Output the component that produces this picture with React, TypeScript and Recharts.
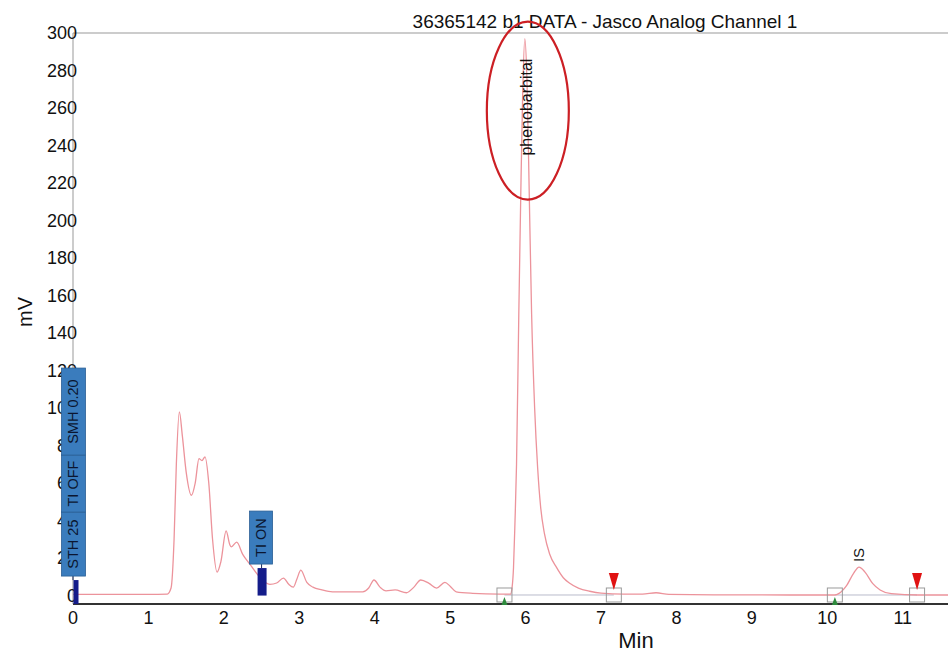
import {LineChart, Line, XAxis, YAxis, ReferenceDot, ReferenceLine} from "recharts";

// retention time (min) and detector signal (mV)
const times = [
  0, 0.5, 1.0, 1.25, 1.3, 1.34, 1.37, 1.41, 1.45, 1.5, 1.57, 1.62, 1.67, 1.71, 1.75, 1.8, 1.85, 1.91,
  1.96, 2.03, 2.08, 2.1, 2.17, 2.25, 2.34, 2.45, 2.55, 2.61, 2.7, 2.79, 2.86, 2.92, 2.97, 3.02, 3.1,
  3.18, 3.3, 3.44, 3.84, 3.92, 3.99, 4.07, 4.15, 4.27, 4.42, 4.52, 4.61, 4.72, 4.82, 4.93, 5.0, 5.08,
  5.3, 5.65, 5.8, 5.82, 5.84, 5.86, 5.88, 5.91, 5.935, 5.96, 5.99, 6.02, 6.05, 6.08, 6.12, 6.16, 6.2,
  6.25, 6.32, 6.41, 6.5, 6.58, 6.7, 6.85, 7.0, 7.3, 7.55, 7.73, 7.9, 8.5, 9.5, 10.1, 10.15, 10.25,
  10.35, 10.42, 10.5, 10.6, 10.7, 10.85, 11.2, 11.6,
];
const mvValues = [
  0.6, 0.6, 0.6, 0.8, 4, 30, 70, 98, 85, 66, 53.5, 60, 73, 72, 74, 60, 30, 12.5,
  18, 34.5, 27, 26, 28.5, 22, 17, 11, 7, 6, 6.7, 9.3, 6, 4.5, 9, 13.6, 7,
  4.5, 3, 2, 2, 4, 8.3, 4.5, 2.5, 3, 1.5, 4.5, 8.3, 6.5, 4, 7, 5, 2,
  1.2, 0.8, 0.8, 4, 15, 40, 70, 150, 211, 265, 297, 272, 211, 150, 100, 68, 47,
  33, 22, 15, 9.5, 6.7, 4, 2.3, 1.3, 0.8, 0.8, 1.5, 0.6, 0.4, 0.3, 0.3, 1, 5,
  12, 15.2, 12.5, 6.5, 3, 1, 0.3, 0.3,
];

const xTicks = [0, 1, 2, 3, 4, 5, 6, 7, 8, 9, 10, 11];
const yTicks = [0, 20, 40, 60, 80, 100, 120, 140, 160, 180, 200, 220, 240, 260, 280, 300];

const peakNames = ["phenobarbital", "IS"];
const peakTimes = [5.99, 10.42];
const peakHeights = [297, 15.2];

const peakStarts = [5.72, 10.1];
const peakEnds = [7.17, 11.19];

const eventTimes = [0, 2.5];
const eventLabels = [["STH 25", "TI OFF", "SMH 0.20"], ["TI ON"]];

const data = times.map((t, i) => ({t, mv: mvValues[i]}));

const FONT = "'Liberation Sans', Arial, sans-serif";
const BASE = 0.3;

// per-event box geometry (px)
const eventStyle = [
  {barX: 0.5, barW: 5, barTop: -15.5, barBottom: 8.5, boxX: -11.5, boxW: 24, gap: 4, heights: [64, 57, 87]},
  {barX: -4, barW: 9, barTop: -27.5, barBottom: 0, boxX: -12, boxW: 23, gap: 4, heights: [53]},
];

function EventMarker(props: any, idx: number) {
  const {cx, cy} = props;
  const s = eventStyle[idx];
  let y = cy + s.barTop - s.gap;
  const boxes = eventLabels[idx].map((lab, i) => {
    const h = s.heights[i];
    const top = y - h;
    const mid = y - h / 2;
    y = top;
    const tx = cx + s.boxX + s.boxW / 2;
    return (
      <g key={lab}>
        <rect x={cx + s.boxX} y={top} width={s.boxW} height={h} fill="#3a7cbd" stroke="#2b5f95" strokeWidth={0.8} />
        <text
          x={tx}
          y={mid}
          transform={`rotate(-90 ${tx} ${mid})`}
          textAnchor="middle"
          dominantBaseline="central"
          fontSize={14.5}
          fontFamily={FONT}
          fill="#0b1630"
        >
          {lab}
        </text>
      </g>
    );
  });
  return (
    <g>
      <line x1={cx} x2={cx} y1={cy + s.barTop} y2={cy + s.barTop - s.gap} stroke="#1a2a5a" strokeWidth={1} />
      <rect x={cx + s.barX} y={cy + s.barTop} width={s.barW} height={s.barBottom - s.barTop} fill="#141c8a" />
      {boxes}
    </g>
  );
}

function PeakLabel(props: any, idx: number) {
  const {cx, cy} = props;
  const name = peakNames[idx];
  if (idx === 0) {
    // no room above the tallest peak: label sits inside, circled in red
    const ty = cy + 20;
    const tx = cx + 2;
    return (
      <g>
        <text x={tx} y={ty} transform={`rotate(-90 ${tx} ${ty})`} textAnchor="end" dominantBaseline="central"
          fontSize={16} fontFamily={FONT} fill="#111">
          {name}
        </text>
        <ellipse cx={cx + 3} cy={cy + 72} rx={41} ry={89} fill="none" stroke="#cc1f24" strokeWidth={2.2} />
      </g>
    );
  }
  const ty = cy - 5;
  return (
    <text x={cx} y={ty} transform={`rotate(-90 ${cx} ${ty})`} textAnchor="start" dominantBaseline="central"
      fontSize={15} fontFamily={FONT} fill="#111">
      {name}
    </text>
  );
}

function StartMark(props: any) {
  const {cx, cy} = props;
  return (
    <g>
      <rect x={cx - 7.5} y={cy - 7} width={15} height={14} fill="none" stroke="#9a9a9a" strokeWidth={1} />
      <polygon points={`${cx - 3},${cy + 10} ${cx + 3},${cy + 10} ${cx},${cy + 2}`} fill="#2d8a3c" />
    </g>
  );
}

function EndMark(props: any) {
  const {cx, cy} = props;
  return (
    <g>
      <rect x={cx - 7.5} y={cy - 7} width={15} height={14} fill="none" stroke="#9a9a9a" strokeWidth={1} />
      <polygon points={`${cx - 5},${cy - 22} ${cx + 5},${cy - 22} ${cx},${cy - 5}`} fill="#e01212" />
    </g>
  );
}

export default function App() {
  return (
    <div style={{position: "absolute", left: 0, top: 0, width: 950, height: 652, background: "#fff"}}>
      <LineChart
        width={950}
        height={652}
        data={data}
        margin={{top: 33, right: 2, bottom: 0, left: 0}}
        style={{fontFamily: FONT}}
      >
        <XAxis
          dataKey="t"
          type="number"
          domain={[0, 11.6]}
          ticks={xTicks}
          allowDataOverflow
          height={48}
          tickLine={false}
          tickSize={0}
          tickMargin={7}
          axisLine={{stroke: "#333", strokeWidth: 2}}
          tick={{fontSize: 18, fill: "#111", fontFamily: FONT}}
        />
        <YAxis
          type="number"
          domain={[-4.5, 300]}
          ticks={yTicks}
          allowDataOverflow
          width={73}
          tickLine={false}
          tickSize={0}
          tickMargin={-4}
          axisLine={{stroke: "#999", strokeWidth: 1}}
          tick={{fontSize: 18, fill: "#111", fontFamily: FONT}}
        />
        <ReferenceLine y={300} stroke="#999" strokeWidth={1} />
        {peakStarts.map((s, i) => (
          <ReferenceLine
            key={"bl" + i}
            segment={[{x: s, y: BASE}, {x: peakEnds[i], y: BASE}]}
            stroke="#b9bccb"
            strokeWidth={1}
          />
        ))}
        <Line
          type="monotone"
          dataKey="mv"
          stroke="#ec939b"
          strokeWidth={1.3}
          dot={false}
          isAnimationActive={false}
        />
        {peakStarts.map((t) => (
          <ReferenceDot key={"s" + t} x={t} y={BASE} shape={StartMark} zIndex={900} />
        ))}
        {peakEnds.map((t) => (
          <ReferenceDot key={"e" + t} x={t} y={BASE} shape={EndMark} zIndex={900} />
        ))}
        {peakTimes.map((t, i) => (
          <ReferenceDot key={"p" + t} x={t} y={peakHeights[i]} shape={(p: any) => PeakLabel(p, i)} zIndex={900} />
        ))}
        {eventTimes.map((t, i) => (
          <ReferenceDot key={"ev" + t} x={t} y={0} shape={(p: any) => EventMarker(p, i)} zIndex={3000} />
        ))}
        <text x={605} y={28} textAnchor="middle" fontSize={19} fontFamily={FONT} fill="#111">
          36365142 b1 DATA - Jasco Analog Channel 1
        </text>
        <text x={636} y={648} textAnchor="middle" fontSize={22} fontFamily={FONT} fill="#111">
          Min
        </text>
        <text x={25} y={312} transform="rotate(-90 25 312)" textAnchor="middle" dominantBaseline="central"
          fontSize={20} fontFamily={FONT} fill="#111">
          mV
        </text>
      </LineChart>
    </div>
  );
}
